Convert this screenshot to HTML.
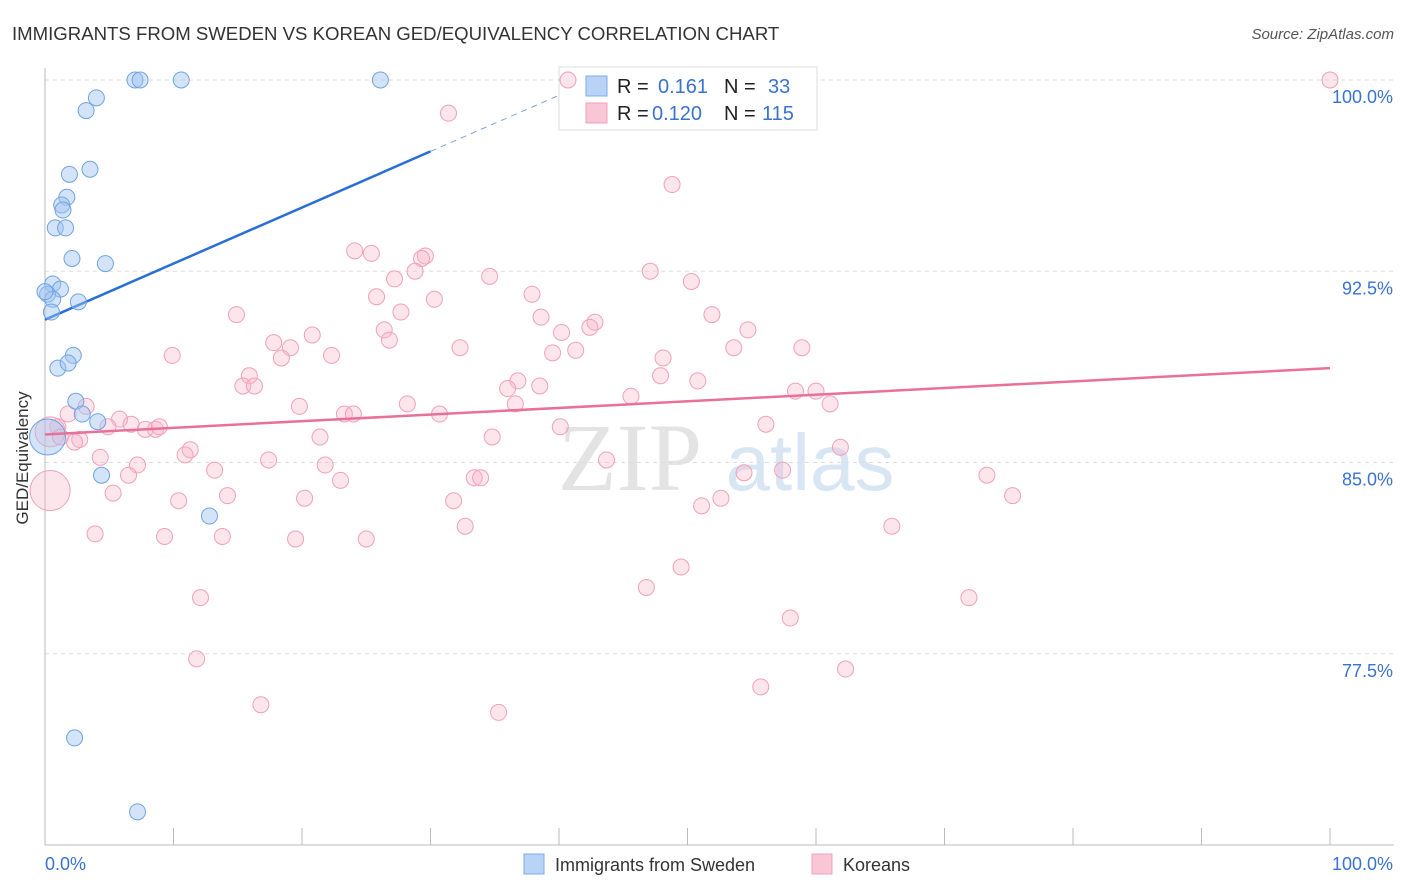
<!DOCTYPE html>
<html><head><meta charset="utf-8">
<style>
body{margin:0;background:#fff;font-family:"Liberation Sans",sans-serif;}
#wrap{position:relative;width:1406px;height:892px;overflow:hidden;}
</style></head>
<body>
<div id="wrap">
<svg id="svg" width="1406" height="892" xmlns="http://www.w3.org/2000/svg">
<text x="12" y="40" font-size="18.6" fill="#333">IMMIGRANTS FROM SWEDEN VS KOREAN GED/EQUIVALENCY CORRELATION CHART</text>
<text x="1394" y="39" font-size="15" fill="#555" font-style="italic" text-anchor="end">Source: ZipAtlas.com</text>
<text x="28" y="458" font-size="17" fill="#333" text-anchor="middle" transform="rotate(-90 28 458)">GED/Equivalency</text>
<g>
<text x="630" y="490" font-size="96" fill="#ddd" font-family="Liberation Serif,serif" text-anchor="middle" opacity="0.8">ZIP</text>
<text x="810" y="490" font-size="80" fill="#cfe0f2" text-anchor="middle" opacity="0.8">atlas</text>
</g>
<g id="grid"></g>
<g id="axes"></g>
<g id="lines"></g>
<g>
<rect x="559" y="67" width="258" height="63" fill="#fff" stroke="#ddd"/>
<rect x="586" y="76" width="21" height="20" fill="#b8d3f5" stroke="#7aaee8"/>
<rect x="586" y="103" width="21" height="20" fill="#f9c6d6" stroke="#f0a0bb"/>
<text x="617" y="93" font-size="20" fill="#222">R = </text><text x="658" y="93" font-size="20" fill="#3a72d0">0.161</text>
<text x="724" y="93" font-size="20" fill="#222">N = </text><text x="768" y="93" font-size="20" fill="#3a72d0">33</text>
<text x="617" y="120" font-size="20" fill="#222">R = </text><text x="652" y="120" font-size="20" fill="#3a72d0">0.120</text>
<text x="724" y="120" font-size="20" fill="#222">N = </text><text x="762" y="120" font-size="20" fill="#3a72d0">115</text>
</g>
<g id="pts"></g>
<g>
<rect x="524" y="854" width="20" height="20" fill="#b8d3f5" stroke="#7aaee8"/>
<text x="555" y="871" font-size="18" fill="#333">Immigrants from Sweden</text>
<rect x="812" y="854" width="20" height="20" fill="#f9c6d6" stroke="#f0a0bb"/>
<text x="843" y="871" font-size="18" fill="#333">Koreans</text>
</g>
</svg>
</div>
<script>
const yTicks=[100,92.5,85,77.5];
const yTickLabels=["100.0%","92.5%","85.0%","77.5%"];
const xTicks=[0,10,20,30,40,50,60,70,80,90,100];
const blueX=[7.0,7.4,10.6,26.1,4.0,3.2,3.5,1.9,1.7,1.3,1.4,0.8,1.6,2.1,4.7,0.6,1.2,0.2,0.6,2.6,0.5,2.2,1.0,1.8,2.4,2.9,4.1,0.2,4.4,12.8,2.3,7.2,0.0];
const blueY=[100,100,100,100,99.3,98.8,96.5,96.3,95.4,95.1,94.9,94.2,94.2,93.0,92.8,92.0,91.8,91.6,91.4,91.3,90.9,89.2,88.7,88.9,87.4,86.9,86.6,86.0,84.5,82.9,74.2,71.3,91.7];
const blueBig=[27];
const pinkX=[100,31.4,40.7,48.8,24.1,25.4,29.6,29.3,28.8,27.2,34.6,47.1,50.3,25.8,30.3,37.9,14.9,38.6,27.7,51.9,42.8,42.4,54.7,26.4,20.8,40.2,17.8,19.1,26.8,32.3,41.3,18.4,22.3,9.9,39.5,48.1,53.6,58.9,47.9,15.9,15.4,16.3,36.8,36.0,38.5,45.6,50.8,58.4,60.0,61.1,19.8,28.2,36.6,30.7,23.3,24.0,1.8,3.2,5.8,6.7,7.8,8.6,4.9,1.0,0.4,1.2,2.7,2.3,8.9,21.4,34.8,40.1,56.1,11.3,10.9,4.3,17.4,61.9,43.7,13.2,7.2,6.5,21.8,23.0,33.4,33.9,54.4,57.4,73.3,5.3,14.2,20.2,10.4,31.8,52.6,51.1,75.3,32.7,65.9,3.9,9.3,13.8,19.5,25.0,49.5,46.8,12.1,71.9,58.0,11.8,62.3,55.7,16.8,35.3,0.4];
const pinkY=[100,98.7,100,95.9,93.3,93.2,93.1,93.0,92.5,92.2,92.3,92.5,92.1,91.5,91.4,91.6,90.8,90.7,90.9,90.8,90.5,90.3,90.2,90.2,90.0,90.1,89.7,89.5,89.8,89.5,89.4,89.1,89.2,89.2,89.3,89.1,89.5,89.5,88.4,88.4,88.0,88.0,88.2,87.9,88.0,87.6,88.2,87.8,87.8,87.3,87.2,87.3,87.3,86.9,86.9,86.9,86.9,87.2,86.7,86.5,86.3,86.3,86.4,86.4,86.2,86.0,85.9,85.8,86.4,86.0,86.0,86.4,86.5,85.5,85.3,85.2,85.1,85.6,85.1,84.7,84.9,84.5,84.9,84.3,84.4,84.4,84.6,84.7,84.5,83.8,83.7,83.6,83.5,83.5,83.6,83.3,83.7,82.5,82.5,82.2,82.1,82.1,82.0,82.0,80.9,80.1,79.7,79.7,78.9,77.3,76.9,76.2,75.5,75.2,83.9];
const pinkBig=[114,64];
const blueTrend=[90.6,97.2]; // y at x=0 and x=30
const blueTrendSolidEnd=30;
const pinkTrend=[86.1,88.7]; // y at x=0 and x=100

const X0=45,X1=1330,Y100=80,PXPER=25.5;
const sx=v=>X0+(X1-X0)*v/100;
const sy=v=>Y100+(100-v)*PXPER;
const NS="http://www.w3.org/2000/svg";
function mk(tag,attrs,parent){const e=document.createElementNS(NS,tag);for(const k in attrs)e.setAttribute(k,attrs[k]);parent.appendChild(e);return e;}
const grid=document.getElementById('grid'),axes=document.getElementById('axes'),pts=document.getElementById('pts'),lines=document.getElementById('lines');
yTicks.forEach((t,i)=>{
 const l=mk('line',{x1:X0,x2:1394,y1:sy(t),y2:sy(t),stroke:'#ddd','stroke-dasharray':'4,4'},grid);
 
 
 const tx=mk('text',{x:1393,y:sy(t)+23,'font-size':18,fill:'#3a72d0','text-anchor':'end'},axes);
 tx.textContent=yTickLabels[i];
 
 
});
const ax=mk('line',{x1:X0,x2:1394,y1:845,y2:845,stroke:'#bbb'},axes);


const ay=mk('line',{x1:X0,x2:X0,y1:68,y2:845,stroke:'#bbb'},axes);


xTicks.forEach(t=>{
 const l=mk('line',{x1:sx(t),x2:sx(t),y1:828,y2:845,stroke:'#bbb'},axes);
 
 
});
const xl0=mk('text',{x:45,y:870,'font-size':18,fill:'#3a72d0'},axes);xl0.textContent='0.0%';


const xl1=mk('text',{x:1393,y:870,'font-size':18,fill:'#3a72d0','text-anchor':'end'},axes);xl1.textContent='100.0%';



pinkX.forEach((v,i)=>{
 const c=mk('circle',{cx:sx(v),cy:sy(pinkY[i]),r:pinkBig.includes(i)?(i===114?20:15):8,fill:'rgba(248,180,200,0.35)',stroke:'#f0a0bb','stroke-width':1},pts);
 
 
});
blueX.forEach((v,i)=>{
 const c=mk('circle',{cx:sx(v),cy:sy(blueY[i]),r:blueBig.includes(i)?18:8,fill:'rgba(160,196,240,0.45)',stroke:'#6fa3e3','stroke-width':1},pts);
 
 
});
const bAt=x=>blueTrend[0]+(blueTrend[1]-blueTrend[0])*x/30;
const bl=mk('line',{x1:sx(0),y1:sy(bAt(0)),x2:sx(blueTrendSolidEnd),y2:sy(bAt(blueTrendSolidEnd)),stroke:'#2a6fd6','stroke-width':2.5},lines);


const xEnd=30*(100-blueTrend[0])/(blueTrend[1]-blueTrend[0]);
const bd=mk('line',{x1:sx(blueTrendSolidEnd),y1:sy(bAt(blueTrendSolidEnd)),x2:sx(xEnd),y2:sy(100),stroke:'#7aa6e0','stroke-width':1,'stroke-dasharray':'6,5'},lines);


const pl=mk('line',{x1:sx(0),y1:sy(pinkTrend[0]),x2:sx(100),y2:sy(pinkTrend[1]),stroke:'#e8709a','stroke-width':2.5},pts);


</script>
</body></html>
